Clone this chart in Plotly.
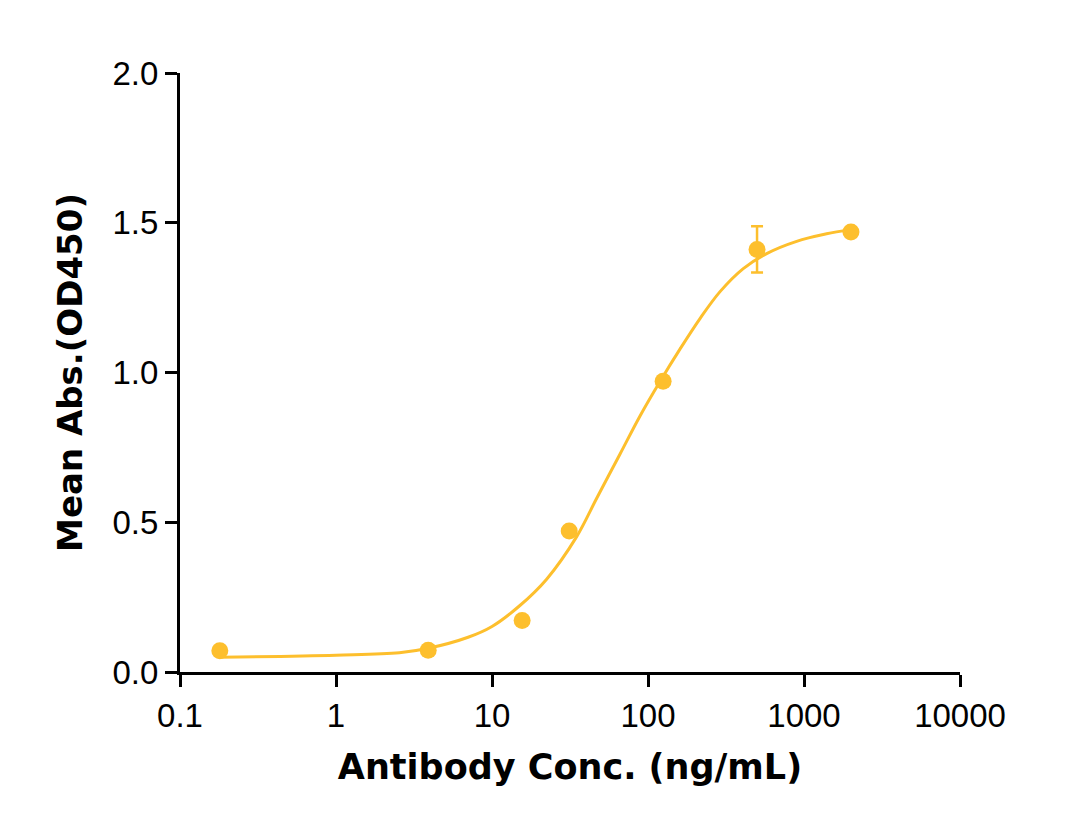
import plotly.graph_objects as go

# Measured points (mean OD450) with SD
conc = [0.18, 3.9, 15.6, 31.25, 125, 500, 2000]
od450 = [0.071, 0.073, 0.172, 0.471, 0.971, 1.411, 1.469]
sd = [0, 0, 0, 0, 0, 0.077, 0]

# Fitted curve
fit_conc = [0.179, 1, 2.55, 3.9, 7.03, 10, 15.1, 22.4, 34.9, 46.9, 66.2, 88.9,
            119.4, 160.3, 215.4, 289.6, 408, 576, 897, 1396, 1972]
fit_od = [0.049, 0.056, 0.064, 0.079, 0.116, 0.152, 0.222, 0.310, 0.452, 0.580,
          0.728, 0.855, 0.970, 1.078, 1.180, 1.270, 1.347, 1.397, 1.438, 1.463, 1.477]

x_ticks = [0.1, 1, 10, 100, 1000, 10000]
x_labels = ["0.1", "1", "10", "100", "1000", "10000"]

color = "#FDBF2D"

fig = go.Figure()

fig.add_trace(go.Scatter(
    x=fit_conc, y=fit_od,
    mode="lines",
    line=dict(color=color, width=3, shape="spline", smoothing=1.0),
    showlegend=False,
    hoverinfo="skip",
))

fig.add_trace(go.Scatter(
    x=conc, y=od450,
    mode="markers",
    marker=dict(color=color, size=17),
    error_y=dict(type="data", array=sd, visible=True, color=color, thickness=2.5, width=6),
    showlegend=False,
))

axis_common = dict(
    showline=True, linecolor="black", linewidth=3,
    ticks="outside", ticklen=12, tickwidth=3, tickcolor="black",
    showgrid=False, zeroline=False,
    tickfont=dict(family="Liberation Sans, Arial", size=33, color="black"),
)

fig.update_xaxes(
    type="log", range=[-1, 4],
    tickvals=x_ticks, ticktext=x_labels,
    title=dict(text="Antibody Conc. (ng/mL)", standoff=22,
               font=dict(family="DejaVu Sans", size=35, color="black", weight="bold")),
    **axis_common,
)
fig.update_yaxes(
    range=[0, 2], tickvals=[0, 0.5, 1.0, 1.5, 2.0],
    ticktext=["0.0", "0.5", "1.0", "1.5", "2.0"],
    title=dict(text="Mean Abs.(OD450)", standoff=20,
               font=dict(family="DejaVu Sans", size=34, color="black", weight="bold")),
    **axis_common,
)

# the page body adds 8px, so margins are shifted by that much
fig.update_layout(
    width=1082, height=837,
    margin=dict(l=172, r=130, t=65, b=173),
    plot_bgcolor="white", paper_bgcolor="white",
)

fig.write_html("out.html")
